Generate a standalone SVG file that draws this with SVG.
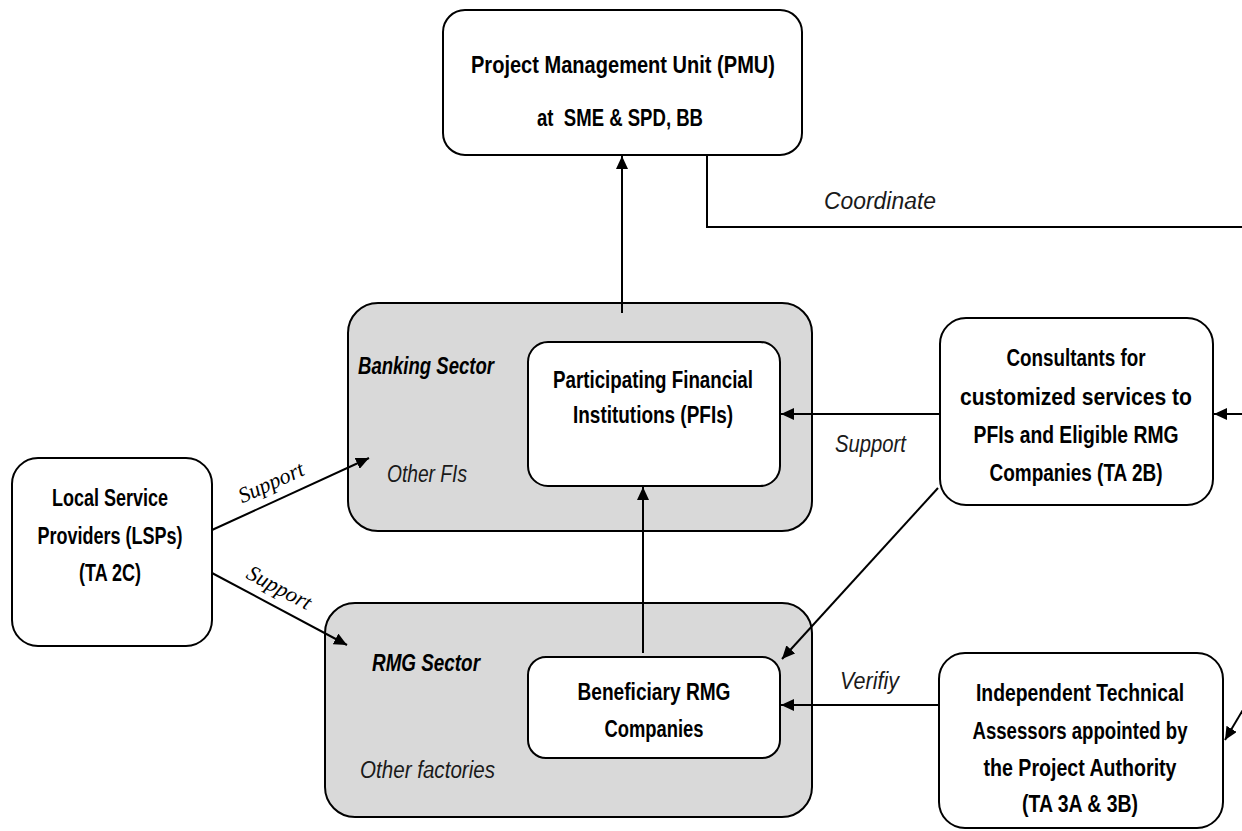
<svg xmlns="http://www.w3.org/2000/svg" width="1242" height="831" viewBox="0 0 1242 831">
<defs>
<style>
.box{fill:#ffffff;stroke:#000;stroke-width:2}
.sector{fill:#d9d9d9;stroke:#000;stroke-width:2}
.t{font-family:"Liberation Sans Narrow","Liberation Sans",Arial,sans-serif;font-weight:bold;font-size:23px;fill:#000;text-anchor:middle}
.st{font-family:"Liberation Sans Narrow","Liberation Sans",Arial,sans-serif;font-weight:bold;font-style:italic;font-size:23px;fill:#000}
.lbl{font-family:"Liberation Sans Narrow","Liberation Sans",Arial,sans-serif;font-style:italic;font-size:23px;fill:#1a1a1a}
.slbl{font-family:"Liberation Serif","Times New Roman",serif;font-style:italic;font-size:22px;fill:#000;text-anchor:middle}
.conn{fill:none;stroke:#000;stroke-width:2}
</style>
<marker id="ah" markerUnits="userSpaceOnUse" markerWidth="14" markerHeight="12" refX="13" refY="6" orient="auto">
<path d="M0,0 L13,6 L0,12 z" fill="#000"/>
</marker>
</defs>

<g id="banking-sector">
<rect class="sector" x="348" y="303" width="464" height="228" rx="30"/>
<text class="st" x="358" y="374" textLength="136" lengthAdjust="spacingAndGlyphs">Banking Sector</text>
<text class="lbl" x="387" y="482" textLength="80" lengthAdjust="spacingAndGlyphs">Other FIs</text>
</g>

<g id="rmg-sector">
<rect class="sector" x="325" y="603" width="487" height="214" rx="30"/>
<text class="st" x="372" y="671" textLength="108" lengthAdjust="spacingAndGlyphs">RMG Sector</text>
<text class="lbl" x="360" y="778" textLength="135" lengthAdjust="spacingAndGlyphs">Other factories</text>
</g>

<g id="pmu">
<rect class="box" x="443" y="10" width="359" height="145" rx="22"/>
<text class="t" x="623" y="73" textLength="304" lengthAdjust="spacingAndGlyphs">Project Management Unit (PMU)</text>
<text class="t" x="620" y="126" textLength="166" lengthAdjust="spacingAndGlyphs" xml:space="preserve">at  SME &amp; SPD, BB</text>
</g>

<g id="pfi">
<rect class="box" x="528" y="342" width="252" height="144" rx="20"/>
<text class="t" x="653" y="388" textLength="200" lengthAdjust="spacingAndGlyphs">Participating Financial</text>
<text class="t" x="653" y="423" textLength="160" lengthAdjust="spacingAndGlyphs">Institutions (PFIs)</text>
</g>

<g id="beneficiary">
<rect class="box" x="528" y="657" width="252" height="101" rx="18"/>
<text class="t" x="654" y="700" textLength="153" lengthAdjust="spacingAndGlyphs">Beneficiary RMG</text>
<text class="t" x="654" y="737" textLength="99" lengthAdjust="spacingAndGlyphs">Companies</text>
</g>

<g id="consultants">
<rect class="box" x="940" y="318" width="273" height="187" rx="26"/>
<text class="t" x="1076" y="366" textLength="139" lengthAdjust="spacingAndGlyphs">Consultants for</text>
<text class="t" x="1076" y="405" textLength="232" lengthAdjust="spacingAndGlyphs">customized services to</text>
<text class="t" x="1076" y="443" textLength="205" lengthAdjust="spacingAndGlyphs">PFIs and Eligible RMG</text>
<text class="t" x="1076" y="481" textLength="173" lengthAdjust="spacingAndGlyphs">Companies (TA 2B)</text>
</g>

<g id="lsp">
<rect class="box" x="12" y="458" width="200" height="188" rx="26"/>
<text class="t" x="110" y="506" textLength="116" lengthAdjust="spacingAndGlyphs">Local Service</text>
<text class="t" x="110" y="544" textLength="145" lengthAdjust="spacingAndGlyphs">Providers (LSPs)</text>
<text class="t" x="110" y="581" textLength="62" lengthAdjust="spacingAndGlyphs">(TA 2C)</text>
</g>

<g id="assessors">
<rect class="box" x="939" y="653" width="284" height="175" rx="26"/>
<text class="t" x="1080" y="701" textLength="208" lengthAdjust="spacingAndGlyphs">Independent Technical</text>
<text class="t" x="1080" y="739" textLength="215" lengthAdjust="spacingAndGlyphs">Assessors appointed by</text>
<text class="t" x="1080" y="776" textLength="193" lengthAdjust="spacingAndGlyphs">the Project Authority</text>
<text class="t" x="1080" y="812" textLength="116" lengthAdjust="spacingAndGlyphs">(TA 3A &amp; 3B)</text>
</g>

<g id="connectors">
<line class="conn" x1="622" y1="313" x2="622" y2="156" marker-end="url(#ah)"/>
<polyline class="conn" points="707,155 707,227 1242,227"/>
<text class="lbl" x="824" y="209" textLength="112" lengthAdjust="spacingAndGlyphs">Coordinate</text>
<line class="conn" x1="940" y1="414" x2="781" y2="414" marker-end="url(#ah)"/>
<text class="lbl" x="835" y="452" textLength="71" lengthAdjust="spacingAndGlyphs">Support</text>
<line class="conn" x1="1242" y1="414" x2="1214" y2="414" marker-end="url(#ah)"/>
<line class="conn" x1="643" y1="653" x2="643" y2="487" marker-end="url(#ah)"/>
<line class="conn" x1="938" y1="488" x2="782" y2="659" marker-end="url(#ah)"/>
<line class="conn" x1="939" y1="705" x2="781" y2="705" marker-end="url(#ah)"/>
<text class="lbl" x="840" y="689" textLength="59" lengthAdjust="spacingAndGlyphs">Verifiy</text>
<line class="conn" x1="1244" y1="708" x2="1225" y2="740" marker-end="url(#ah)"/>
<line class="conn" x1="212" y1="530" x2="369" y2="458" marker-end="url(#ah)"/>
<text class="slbl" transform="translate(274,489) rotate(-24.5)" textLength="70" lengthAdjust="spacingAndGlyphs">Support</text>
<line class="conn" x1="212" y1="573" x2="347" y2="645" marker-end="url(#ah)"/>
<text class="slbl" transform="translate(276,594) rotate(28)" textLength="70" lengthAdjust="spacingAndGlyphs">Support</text>
</g>
</svg>
